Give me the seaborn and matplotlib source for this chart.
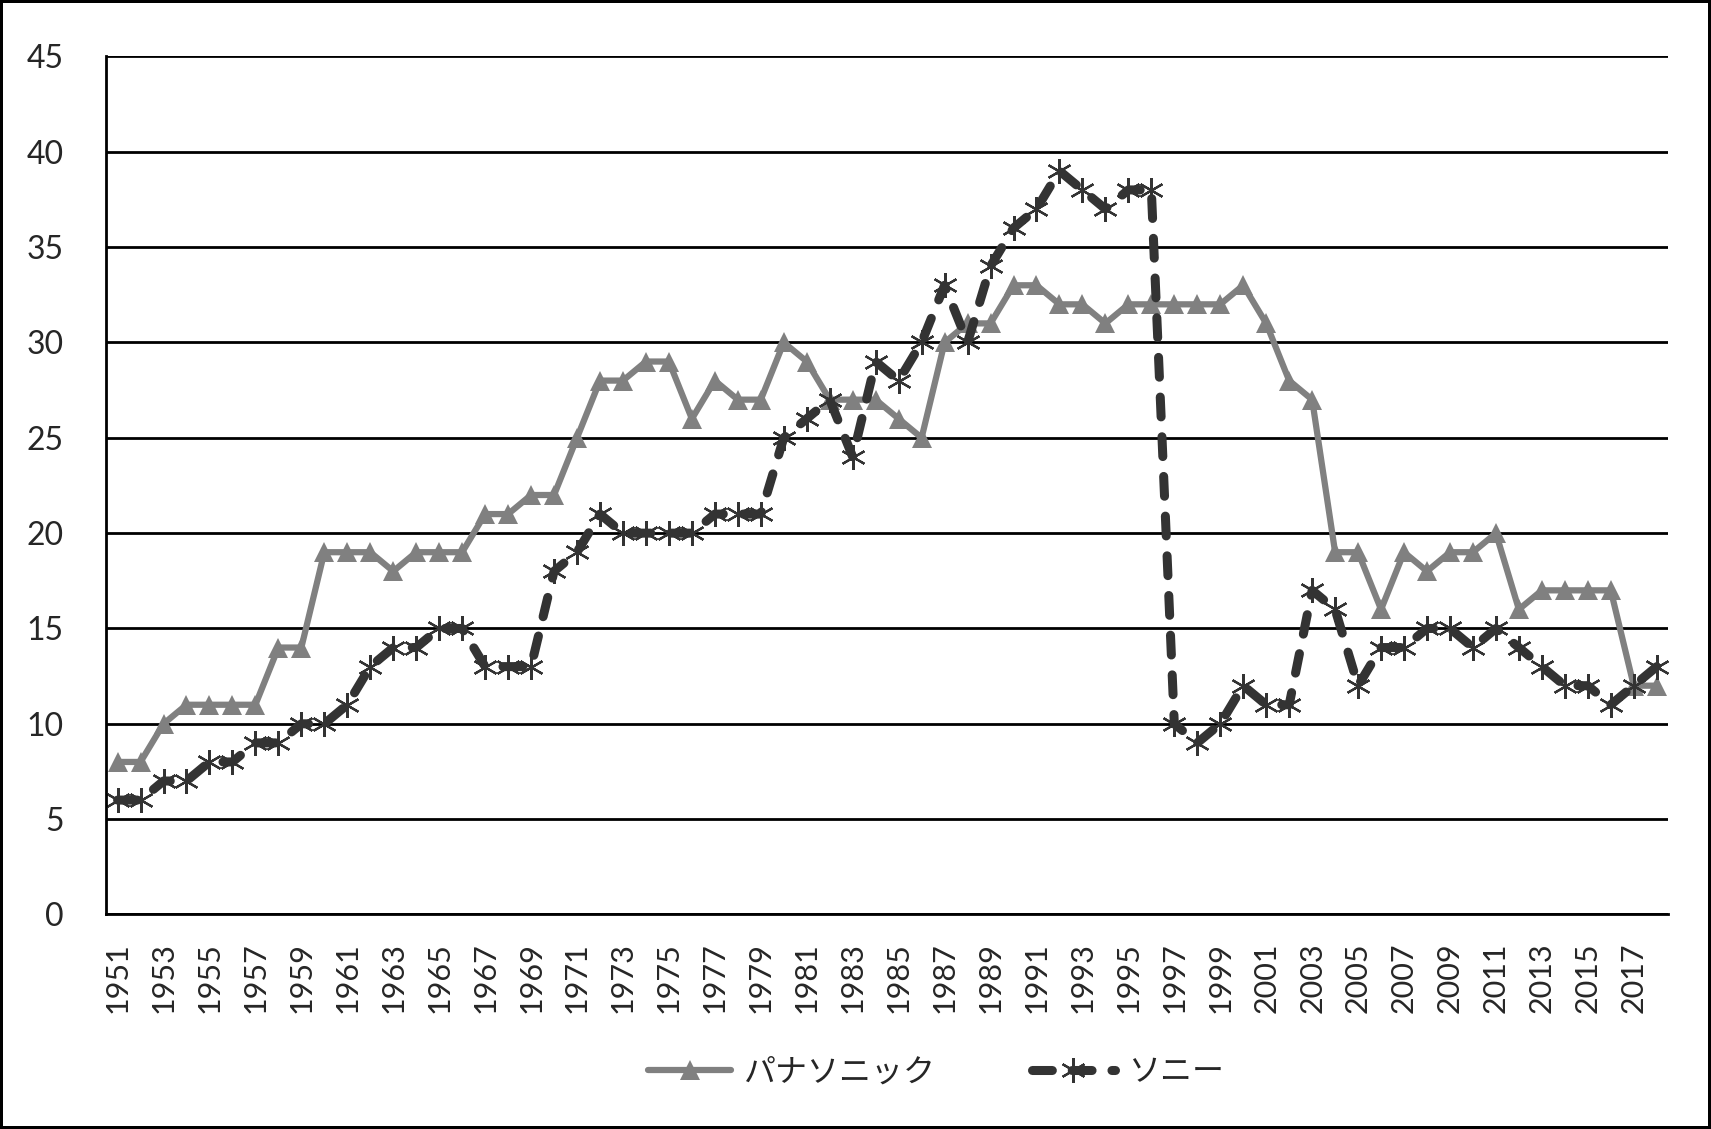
import numpy as np
import pandas as pd
import matplotlib
matplotlib.use('Agg')
import matplotlib.pyplot as plt
import seaborn as sns
from matplotlib.ticker import FixedLocator, NullFormatter

# Jaartallen en waarden per bedrijf
years = list(range(1951, 2019))
panasonic = [8, 8, 10, 11, 11, 11, 11, 14, 14, 19,
             19, 19, 18, 19, 19, 19, 21, 21, 22, 22,
             25, 28, 28, 29, 29, 26, 28, 27, 27, 30,
             29, 27, 27, 27, 26, 25, 30, 31, 31, 33,
             33, 32, 32, 31, 32, 32, 32, 32, 32, 33,
             31, 28, 27, 19, 19, 16, 19, 18, 19, 19,
             20, 16, 17, 17, 17, 17, 12, 12]
sony = [6, 6, 7, 7, 8, 8, 9, 9, 10, 10,
        11, 13, 14, 14, 15, 15, 13, 13, 13, 18,
        19, 21, 20, 20, 20, 20, 21, 21, 21, 25,
        26, 27, 24, 29, 28, 30, 33, 30, 34, 36,
        37, 39, 38, 37, 38, 38, 10, 9, 10, 12,
        11, 11, 17, 16, 12, 14, 14, 15, 15, 14,
        15, 14, 13, 12, 12, 11, 12, 13]
series_names = ['パナソニック', 'ソニー']

df = pd.DataFrame({'pos': np.arange(len(years)), 'year': years,
                   series_names[0]: panasonic, series_names[1]: sony})

sns.set_style('white')
plt.rcParams['font.family'] = ['Lato', 'Noto Sans CJK JP', 'DejaVu Sans']

fig = plt.figure(figsize=(17.11, 11.29), dpi=100)
ax = fig.add_axes([0.062, 0.19, 0.913, 0.76])

sns.lineplot(x='pos', y=series_names[0], data=df, ax=ax, color='#808080',
             linewidth=4.5, marker='^', markersize=14, markeredgewidth=0,
             label=series_names[0], solid_capstyle='round')
sns.lineplot(x='pos', y=series_names[1], data=df, ax=ax, color='#333333',
             linewidth=6.5, marker=(6, 2, 0), markersize=18, markeredgewidth=1.6,
             markeredgecolor='#333333', dashes=(2.2, 2.2),
             label=series_names[1], dash_capstyle='round')

ax.set_xlim(-0.5, len(years) - 0.5)
ax.set_ylim(0, 45)
ax.set_yticks(range(0, 46, 5))
ax.yaxis.grid(True, color='black', linewidth=2)
ax.set_axisbelow(True)

ax.set_xticks(df['pos'][::2])
ax.set_xticklabels([str(y) for y in years[::2]], rotation=90)
ax.xaxis.set_minor_locator(FixedLocator(np.arange(-0.5, len(years), 1)))
ax.xaxis.set_minor_formatter(NullFormatter())
ax.tick_params(axis='x', which='major', length=0, labelsize=22, pad=20)
ax.tick_params(axis='x', which='minor', length=8.5, width=2, direction='out', color='black')
ax.tick_params(axis='y', length=8.5, width=2, direction='out', color='black', labelsize=23, pad=22)
ax.set_xlabel('')
ax.set_ylabel('')

for side in ['top', 'right']:
    ax.spines[side].set_visible(False)
for side in ['left', 'bottom']:
    ax.spines[side].set_color('black')
    ax.spines[side].set_linewidth(2)

ax.legend(loc='center', bbox_to_anchor=(0.547, 0.05), bbox_transform=fig.transFigure,
          ncol=2, frameon=False, prop={'family': ['Noto Sans CJK JP', 'DejaVu Sans'], 'size': 23},
          handlelength=2.6, columnspacing=3, handletextpad=0.4)

fig.patch.set_edgecolor('black')
fig.patch.set_linewidth(3)
fig.savefig('out.png', dpi=100, edgecolor=fig.get_edgecolor())
